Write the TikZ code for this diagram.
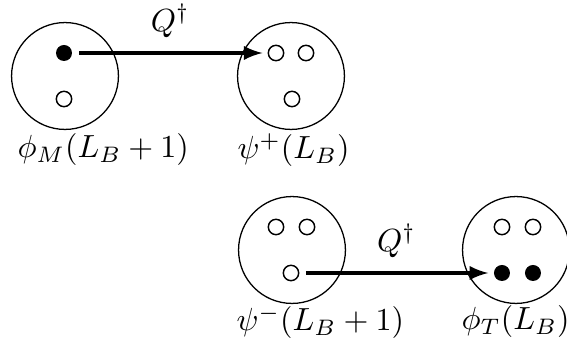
\documentclass[tikz,border=0pt]{standalone}
\usetikzlibrary{positioning}
\begin{document}
\begin{tikzpicture}[x=0.3125pt, y=-0.3125pt, >=latex,
    site/.style={draw, circle, line width=0.4pt, minimum size=33.4pt, inner sep=0pt},
    occ/.style={circle, fill=black, minimum size=5pt, inner sep=0pt},
    vac/.style={circle, draw, line width=0.45pt, minimum size=4.8pt, inner sep=0pt},
    hop/.style={->, line width=1pt, shorten <=2pt, shorten >=1.6pt},
    lbl/.style={anchor=west, inner sep=0pt}]
    \useasboundingbox (0,0) rectangle (567,339);
    % upper pair
    \node[site] (m) at (65,76) {};
    \node[occ] (m1) at (64,53) {};
    \node[vac] (m2) at (64,99) {};
    \node[site] (p) at (291,76) {};
    \node[vac] (p1) at (276,53) {};
    \node[vac] (p2) at (306,53) {};
    \node[vac] (p3) at (292,99) {};
    \draw[hop] (m1) -- (p1) node[midway, above=1pt] (q1) {$Q^\dagger$};
    \node[lbl] (ml) at (17,150) {$\phi_M(L_B+1)$};
    \node[lbl] (pl) at (237,150) {$\psi^+(L_B)$};
    % lower pair
    \node[site] (n) at (292,250) {};
    \node[vac] (n1) at (276,227) {};
    \node[vac] (n2) at (307,227) {};
    \node[vac] (n3) at (291,273) {};
    \node[site] (t) at (516,250) {};
    \node[vac] (t1) at (502,227) {};
    \node[vac] (t2) at (533,227) {};
    \node[occ] (t3) at (502,273) {};
    \node[occ] (t4) at (533,273) {};
    \draw[hop] (n3) -- (t3) node[midway, above=1pt] (q2) {$Q^\dagger$};
    \node[lbl] (nl) at (236,322) {$\psi^-(L_B+1)$};
    \node[lbl] (tl) at (461,322) {$\phi_T(L_B)$};
\end{tikzpicture}
\end{document}
